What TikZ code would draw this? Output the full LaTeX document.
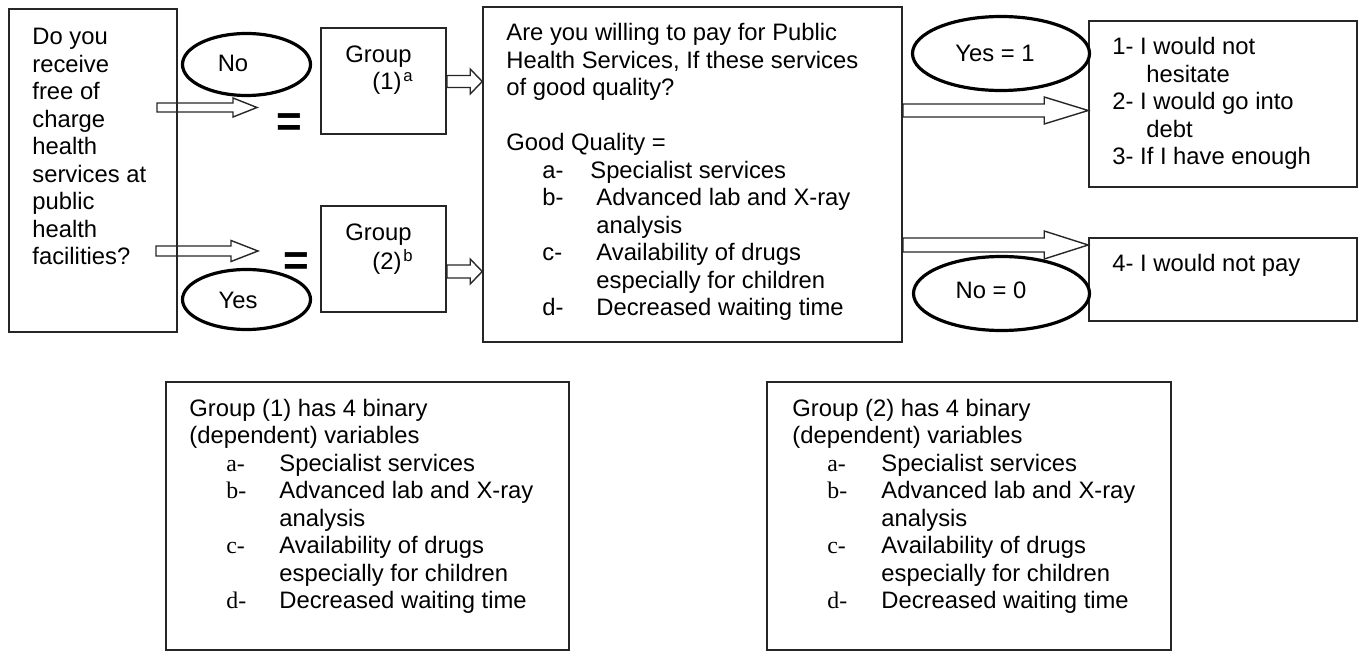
\documentclass[tikz,border=0pt]{standalone}
\usepackage{fontspec}
\setmainfont{Liberation Sans}
\newfontfamily\serifl{Liberation Serif}
\usetikzlibrary{shapes.geometric,calc,fit}
\tikzset{
  box/.style={draw=black!85, line width=0.8pt, rectangle, inner sep=0pt},
  oval/.style={draw=black, line width=1.6pt, ellipse, inner sep=0pt},
  txt/.style={inner sep=0pt, anchor=base west, font=\fontsize{11.9}{13.75}\selectfont},
  lbl/.style={inner sep=0pt, anchor=base, font=\fontsize{11.9}{13.75}\selectfont},
  harrow/.style={draw=black!85, line width=0.7pt, line join=miter},
  eq/.style={inner sep=0pt, font=\fontsize{22}{26}\selectfont\bfseries},
}
% hollow arrow: #1 start coordinate, #2 tip coordinate, #3 shaft half width, #4 head half width, #5 head length
\newcommand{\harrow}[5]{%
  \draw[harrow] ($(#1 |- #2)+(0,-#3)$) -- ($(#2)+(-#5,-#3)$) -- ($(#2)+(-#5,-#4)$) -- (#2)
    -- ($(#2)+(-#5,#4)$) -- ($(#2)+(-#5,#3)$) -- ($(#1 |- #2)+(0,#3)$) -- cycle;}
\newcommand{\lab}[2]{\makebox[#1][l]{#2}}
\begin{document}
\begin{tikzpicture}[x=0.5pt,y=-0.5pt]
\useasboundingbox (0,0) rectangle (1365,652);
% boxes
\node[box, fit={(9,9) (177,332)}] (L) {};
\node[box, fit={(321,28) (446,134)}] (G1) {};
\node[box, fit={(321,206) (446,312)}] (G2) {};
\node[box, fit={(483,7) (902,342)}] (M) {};
\node[box, fit={(1089,21) (1357,187)}] (R1) {};
\node[box, fit={(1089,238) (1357,321)}] (R2) {};
\node[box, fit={(166,382) (569,650)}] (B1) {};
\node[box, fit={(767,382) (1171,650)}] (B2) {};
% texts
\node[txt] (Ltxt) at (32,45) {\parbox[t]{80pt}{\raggedright Do you\\receive\\free of\\charge\\health\\services at\\public\\health\\facilities?}};
\node[txt] (G1a) at (345,63) {Group};
\node[txt] (G1b) at (372,90) {(1)\kern1pt\textsuperscript{a}};
\node[txt] (G2a) at (345,241) {Group};
\node[txt] (G2b) at (372,270) {(2)\kern1pt\textsuperscript{b}};
\node[txt] (Mtxt) at (506,41) {\parbox[t]{195pt}{\raggedright Are you willing to pay for Public\\
Health Services, If these services\\
of good quality?\\[13.75pt]
Good Quality =\\
\hspace*{18pt}\lab{24pt}{a-}Specialist services\\
\hspace*{18pt}\lab{27pt}{b-}Advanced lab and X-ray\\
\hspace*{45pt}analysis\\
\hspace*{18pt}\lab{27pt}{c-}Availability of drugs\\
\hspace*{45pt}especially for children\\
\hspace*{18pt}\lab{27pt}{d-}Decreased waiting time}};
\node[txt] (R1txt) at (1112,55) {\parbox[t]{125pt}{\raggedright 1- I would not\\
\hspace*{17pt}hesitate\\
2- I would go into\\
\hspace*{17pt}debt\\
3- If I have enough}};
\node[txt] (R2txt) at (1112,271) {4- I would not pay};
\node[txt] (B1txt) at (189,416) {\parbox[t]{185pt}{\raggedright Group (1) has 4 binary\\
(dependent) variables\\
\hspace*{18.5pt}\lab{26.5pt}{\serifl a-}Specialist services\\
\hspace*{18.5pt}\lab{26.5pt}{\serifl b-}Advanced lab and X-ray\\
\hspace*{45pt}analysis\\
\hspace*{18.5pt}\lab{26.5pt}{\serifl c-}Availability of drugs\\
\hspace*{45pt}especially for children\\
\hspace*{18.5pt}\lab{26.5pt}{\serifl d-}Decreased waiting time}};
\node[txt] (B2txt) at (792,416) {\parbox[t]{185pt}{\raggedright Group (2) has 4 binary\\
(dependent) variables\\
\hspace*{17.5pt}\lab{27pt}{\serifl a-}Specialist services\\
\hspace*{17.5pt}\lab{27pt}{\serifl b-}Advanced lab and X-ray\\
\hspace*{44.5pt}analysis\\
\hspace*{17.5pt}\lab{27pt}{\serifl c-}Availability of drugs\\
\hspace*{44.5pt}especially for children\\
\hspace*{17.5pt}\lab{27pt}{\serifl d-}Decreased waiting time}};
% equals signs
\node[eq] (E1) at (289.5,125) {=};
\node[eq] (E2) at (296.5,264.5) {=};
% hollow arrows
\coordinate (a1s) at (157,107.5);
\coordinate (a1t) at (257,107.5);
\coordinate (a2s) at (156,251);
\coordinate (a2t) at (258,251);
\coordinate (a3t) at (M.west |- 0,81.5);
\coordinate (a4t) at (M.west |- 0,271.5);
\coordinate (a5t) at (R1.west |- 0,110.5);
\coordinate (a6t) at (R2.west |- 0,245);
\harrow{a1s}{a1t}{4.5}{9.5}{24}
\harrow{a2s}{a2t}{5}{10.5}{27}
\harrow{G1.east}{a3t}{6}{12.5}{12}
\harrow{G2.east}{a4t}{6.5}{12.5}{12}
\harrow{M.east}{a5t}{6.5}{13.5}{44}
\harrow{M.east}{a6t}{7}{14}{44}
% ellipses
\node[oval, minimum width=64pt, minimum height=31pt] (ONo) at (246.5,64.5) {};
\node[oval, minimum width=64pt, minimum height=30pt] (OYes) at (246.5,299.5) {};
\node[oval, minimum width=88.5pt, minimum height=37pt] (OYes1) at (1001,53.5) {};
\node[oval, minimum width=88pt, minimum height=37pt] (ONo0) at (1001.5,293.5) {};
\node[lbl] (tNo) at (233,72) {No};
\node[lbl] (tYes) at (238,308) {Yes};
\node[lbl] (tYes1) at (995,61.5) {Yes = 1};
\node[lbl] (tNo0) at (991,299) {No = 0};
\end{tikzpicture}
\end{document}
